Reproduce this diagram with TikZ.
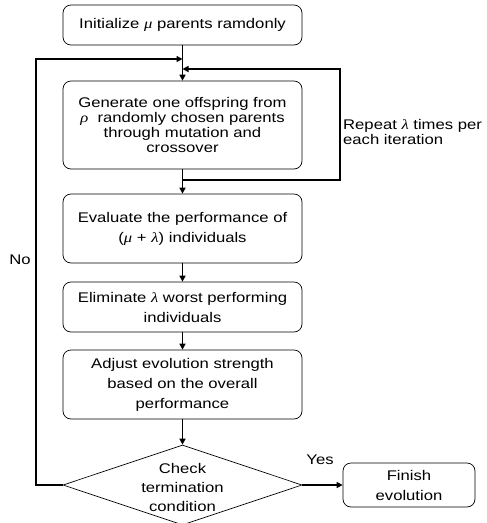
\documentclass[tikz,border=0pt]{standalone}
\usepackage{fontspec}
\setmainfont{Liberation Sans}[FakeStretch=1.19]
\newfontfamily\grkfont{Liberation Serif}[FakeStretch=1.19]
\usetikzlibrary{shapes.geometric,arrows.meta}
\newcommand{\gmu}{{\grkfont\itshape μ}}
\newcommand{\glam}{{\grkfont\itshape λ}}
\newcommand{\grho}{{\grkfont\itshape ρ}}
\begin{document}
\begin{tikzpicture}[x=1pt,y=-1pt,
  font=\fontsize{14}{20}\selectfont,
  box/.style={draw, rounded corners=8pt, line width=0.7pt, minimum width=239pt, text width=235pt, align=center, inner sep=0pt},
  flow/.style={line width=1.4pt, -{Triangle[length=6pt,width=6pt]}},
  lbl/.style={inner sep=0pt}]
\useasboundingbox (0,0) rectangle (487,523);
\node[box, minimum height=40pt] (init) at (182.5,25) {Initialize \gmu\ parents ramdonly};
\node[box, minimum height=88pt, font=\fontsize{14}{15}\selectfont] (gen) at (182.5,125) {Generate one offspring from\\ \grho\ \ randomly chosen parents\\ through mutation and\\ crossover};
\node[box, minimum height=69pt] (eval) at (182.5,228.5) {Evaluate the performance of\\ (\gmu\ + \glam) individuals};
\node[box, minimum height=50pt] (elim) at (182.5,307) {Eliminate \glam\ worst performing\\ individuals};
\node[box, minimum height=69pt] (adj) at (182.5,384.5) {Adjust evolution strength\\ based on the overall\\ performance};
\node[draw, diamond, line width=0.7pt, minimum width=239pt, minimum height=80pt, inner sep=0pt] (chk) at (182.5,485) {};
\node[align=center, lbl, font=\fontsize{14}{19}\selectfont] (chktxt) at (182.5,487) {Check\\ termination\\ condition};
\node[draw, rounded corners=8pt, line width=0.7pt, minimum width=132pt, minimum height=44pt, align=center, inner sep=0pt] (fin) at (409,485) {Finish\\ evolution};
\node[lbl, align=left, anchor=west, font=\fontsize{14}{15}\selectfont] (rep) at (343,132) {Repeat \glam\ times per\\ each iteration};
\node[lbl] (no) at (20,260) {No};
\node[lbl] (yes) at (320,460) {Yes};
\coordinate (jl) at (182.5,59);
\coordinate (jr) at (182.5,69);
\coordinate (jb) at (182.5,180);
\coordinate (lft) at (36,485);
\coordinate (rgt) at (340,180);
\draw[flow] (init) -- (gen);
\draw[flow] (gen) -- (eval);
\draw[flow] (eval) -- (elim);
\draw[flow] (elim) -- (adj);
\draw[flow] (adj) -- (chk);
\draw[flow] (chk.east) -- (fin.west);
\draw[flow] (chk.west) -- (lft) |- (jl);
\draw[flow] (jb) -- (rgt) |- (jr);
\end{tikzpicture}
\end{document}
